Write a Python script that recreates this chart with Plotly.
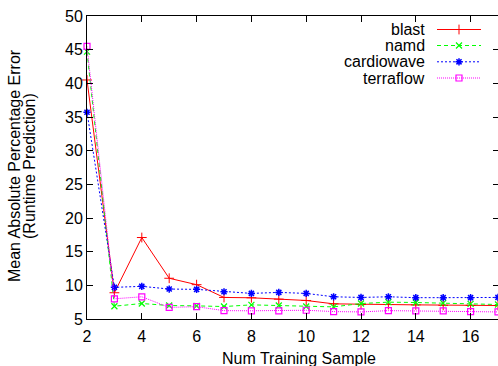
import plotly.graph_objects as go

x_samples = list(range(2, 18))
blast = [40.5, 8.9, 17.1, 11.05, 10.1, 8.2, 8.15, 7.95, 7.75, 7.25, 7.15, 7.15, 7.1, 7.03, 7.03, 7.0]
namd = [44.7, 6.9, 7.3, 7.0, 6.95, 6.85, 7.1, 7.0, 6.85, 6.8, 7.3, 7.5, 7.45, 7.35, 7.25, 7.15]
cardiowave = [35.7, 9.7, 9.85, 9.45, 9.4, 9.05, 8.8, 8.95, 8.8, 8.3, 8.2, 8.3, 8.17, 8.17, 8.17, 8.2]
terraflow = [45.5, 8.0, 8.3, 6.72, 6.83, 6.24, 6.22, 6.22, 6.3, 6.1, 6.05, 6.24, 6.22, 6.2, 6.1, 6.05]
x_ticks = list(range(2, 18, 2))
y_ticks = list(range(5, 55, 5))

names = ["blast", "namd", "cardiowave", "terraflow"]
series = [blast, namd, cardiowave, terraflow]
colors = ["#ff0000", "#00ff00", "#0000ff", "#ff00ff"]
dashes = ["solid", "4px,3px", "2px,2px", "1px,1px"]
symbols = ["cross-thin-open", "x-thin-open", "asterisk-open", "square-open"]
msizes = [7, 6, 6, 6]
mwidths = [1, 1.2, 1.5, 1.2]

W, H = 498, 366
PL, PT, PR, PB = 87, 16, 498, 319  # plot area in page pixels
L, T, R, B = PL, PT, W - PR, H - PB
pw = PR - PL
ph = PB - PT
FONT = "Liberation Sans, Arial, Helvetica, sans-serif"


def px(xp):
    return (xp - PL) / pw


def py(yp):
    return (PB - yp) / ph


fig = go.Figure()
for n, s, c, d, sym, ms, mw in zip(names, series, colors, dashes, symbols, msizes, mwidths):
    fig.add_trace(go.Scatter(
        x=x_samples, y=s, mode="lines+markers", name=n, showlegend=False,
        line=dict(color=c, width=1, dash=d),
        marker=dict(symbol=sym, size=ms, color=c, line=dict(color=c, width=mw)),
        cliponaxis=False,
    ))

# custom gnuplot-style legend (text right, sample on the right)
leg_rows = [29.5, 45.5, 61.8, 78.0]
for i, (n, c, d, sym, ms, mw) in enumerate(zip(names, colors, dashes, symbols, msizes, mwidths)):
    yy = leg_rows[i]
    fig.add_trace(go.Scatter(
        x=[437, 481], y=[yy, yy], mode="lines", xaxis="x3", yaxis="y3",
        line=dict(color=c, width=1, dash=d), showlegend=False, hoverinfo="skip"))
    fig.add_trace(go.Scatter(
        x=[459], y=[yy], mode="markers", xaxis="x3", yaxis="y3",
        marker=dict(symbol=sym, size=ms, color=c, line=dict(color=c, width=mw)),
        showlegend=False, hoverinfo="skip"))
    fig.add_annotation(x=px(427), y=py(yy), xref="paper", yref="paper", text=n,
                       showarrow=False, xanchor="right", yanchor="middle",
                       font=dict(family=FONT, size=16, color="black"))

# axis titles
fig.add_annotation(x=px(299), y=py(358), xref="paper", yref="paper",
                   text="Num Training Sample", showarrow=False,
                   xanchor="center", yanchor="middle",
                   font=dict(family=FONT, size=16, color="black"))
fig.add_annotation(x=px(14), y=py(166), xref="paper", yref="paper",
                   text="Mean Absolute Percentage Error", showarrow=False,
                   textangle=-90, xanchor="center", yanchor="middle",
                   font=dict(family=FONT, size=16, color="black"))
fig.add_annotation(x=px(29), y=py(166), xref="paper", yref="paper",
                   text="(Runtime Prediction)", showarrow=False,
                   textangle=-90, xanchor="center", yanchor="middle",
                   font=dict(family=FONT, size=16, color="black"))

fig.update_layout(
    width=W, height=H,
    margin=dict(l=L, r=R, t=T, b=B, pad=0),
    paper_bgcolor="white", plot_bgcolor="white",
    font=dict(family=FONT, size=16, color="black"),
    showlegend=False,
    xaxis=dict(range=[2, 17], tickmode="array", tickvals=x_ticks,
               ticks="inside", ticklen=6, tickcolor="black", showline=True,
               linecolor="black", linewidth=1, mirror=False, showgrid=False,
               zeroline=False, tickfont=dict(size=16), ticklabelstandoff=3),
    xaxis2=dict(range=[2, 17], overlaying="x", side="top", tickmode="array",
                tickvals=x_ticks, ticks="inside", ticklen=6, tickcolor="black",
                showticklabels=False, showline=True, linecolor="black",
                linewidth=1, showgrid=False, zeroline=False),
    yaxis=dict(range=[5, 50], tickmode="array", tickvals=y_ticks,
               ticks="inside", ticklen=6, tickcolor="black", showline=True,
               linecolor="black", linewidth=1, mirror=False, showgrid=False,
               zeroline=False, tickfont=dict(size=16)),
    yaxis2=dict(range=[5, 50], overlaying="y", side="right", tickmode="array",
                tickvals=y_ticks, ticks="inside", ticklen=5,
                tickcolor="black", showticklabels=False, showline=False,
                showgrid=False, zeroline=False),
    xaxis3=dict(range=[PL, PR], domain=[0, 1], overlaying="x", visible=False,
                fixedrange=True),
    yaxis3=dict(range=[PB, PT], domain=[0, 1], overlaying="y", visible=False,
                fixedrange=True),
)
# invisible trace to activate the top / right tick axes
fig.add_trace(go.Scatter(x=[2], y=[5], xaxis="x2", yaxis="y2", mode="markers",
                         marker=dict(opacity=0), showlegend=False, hoverinfo="skip"))

fig.write_html("out.html", config={"displayModeBar": False},
               post_script="document.body.style.margin='0';")
